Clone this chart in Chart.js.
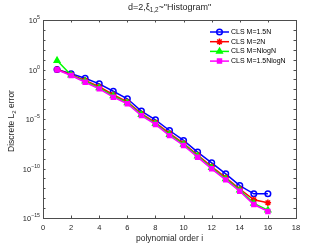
<!DOCTYPE html>
<html>
<head>
<meta charset="utf-8">
<script src="https://cdn.jsdelivr.net/npm/chart.js@4.4.1/dist/chart.umd.min.js"></script>
<style>
  body { margin: 0; background: #fff; }
  canvas { display: block; }
</style>
</head>
<body>
<canvas id="errChart" width="327" height="245"></canvas>
<script>
// dados (ordem polinomial i = 1..16)
const orders = [1, 2, 3, 4, 5, 6, 7, 8, 9, 10, 11, 12, 13, 14, 15, 16];
const clsM15N = [1.0, 0.37, 0.13, 0.035, 6.3e-3, 1.1e-3, 6.3e-5, 8.3e-6, 6.9e-7, 6.8e-8, 4.5e-9, 3.7e-10, 2.9e-11, 1.9e-12, 2.8e-13, 2.8e-13];
const clsM2N = [1.0, 0.30, 0.08, 0.018, 2.8e-3, 5.5e-4, 3.5e-5, 4.4e-6, 3.5e-7, 3.5e-8, 2.3e-9, 1.6e-10, 1.2e-11, 8.5e-13, 6.9e-14, 3.5e-14];
const clsMNlogN = [8.0, 0.27, 0.065, 0.014, 2.1e-3, 4.3e-4, 2.8e-5, 3.4e-6, 2.7e-7, 2.7e-8, 1.8e-9, 1.2e-10, 9.0e-12, 6.5e-13, 3.0e-14, 6.3e-15];
const clsM15NlogN = [0.95, 0.25, 0.052, 0.011, 1.6e-3, 3.5e-4, 2.2e-5, 2.8e-6, 2.1e-7, 2.1e-8, 1.4e-9, 9.3e-11, 7.1e-12, 5.0e-13, 2.3e-14, 4.6e-15];
const seriesNames = ['CLS M=1.5N', 'CLS M=2N', 'CLS M=NlogN', 'CLS M=1.5NlogN'];
const xTicks = [0, 2, 4, 6, 8, 10, 12, 14, 16, 18];
const yExponents = [-15, -14, -13, -12, -11, -10, -9, -8, -7, -6, -5, -4, -3, -2, -1, 0, 1, 2, 3, 4, 5];
const yLabelExponents = [-15, -10, -5, 0, 5];

const FONT = '"Liberation Sans", Arial, sans-serif';

function toPoints(vals) {
    return vals.map((v, i) => ({ x: orders[i], y: v }));
}

const styles = [
    { color: '#0000ff', point: 'circle', radius: 2.8, fill: 'rgba(0,0,0,0)' },
    { color: '#ff0000', point: 'star', radius: 3.2, fill: '#ff0000' },
    { color: '#00ff00', point: 'triangle', radius: 3.2, fill: '#00ff00' },
    { color: '#ff00ff', point: 'rect', radius: 2.8, fill: '#ff00ff' }
];
const allSeries = [clsM15N, clsM2N, clsMNlogN, clsM15NlogN];

const datasets = allSeries.map((vals, k) => ({
    label: seriesNames[k],
    data: toPoints(vals),
    borderColor: styles[k].color,
    backgroundColor: styles[k].fill,
    pointBorderColor: styles[k].color,
    pointBackgroundColor: styles[k].fill,
    pointStyle: styles[k].point,
    pointRadius: styles[k].radius,
    pointBorderWidth: 1.5,
    borderWidth: 1.5,
    order: 4 - k
}));

// texto com subscrito / sobrescrito
function drawRich(ctx, parts, cx, cy, size, align) {
    let total = 0;
    parts.forEach(p => {
        ctx.font = (p.sub || p.sup ? size * 0.7 : size) + 'px ' + FONT;
        total += ctx.measureText(p.t).width;
    });
    let x = align === 'right' ? cx - total : cx - total / 2;
    ctx.textAlign = 'left';
    ctx.textBaseline = 'middle';
    parts.forEach(p => {
        ctx.font = (p.sub || p.sup ? size * 0.7 : size) + 'px ' + FONT;
        let y = cy;
        if (p.sub) y = cy + size * 0.3;
        if (p.sup) y = cy - size * 0.4;
        ctx.fillText(p.t, x, y);
        x += ctx.measureText(p.t).width;
    });
}

const framePlugin = {
    id: 'frame',
    afterDraw(chart) {
        const ctx = chart.ctx;
        const a = chart.chartArea;
        const xs = chart.scales.x, ys = chart.scales.y;
        ctx.save();
        ctx.strokeStyle = '#4d4d4d';
        ctx.lineWidth = 1;
        ctx.strokeRect(a.left + 0.5, a.top + 0.5, a.right - a.left, a.bottom - a.top);
        ctx.beginPath();
        xTicks.forEach(v => {
            const px = Math.round(xs.getPixelForValue(v)) + 0.5;
            ctx.moveTo(px, a.bottom); ctx.lineTo(px, a.bottom - 2.5);
            ctx.moveTo(px, a.top); ctx.lineTo(px, a.top + 2.5);
        });
        yExponents.forEach(e => {
            const py = Math.round(ys.getPixelForValue(Math.pow(10, e))) + 0.5;
            ctx.moveTo(a.left, py); ctx.lineTo(a.left + 2.5, py);
            ctx.moveTo(a.right, py); ctx.lineTo(a.right - 2.5, py);
        });
        ctx.stroke();

        ctx.fillStyle = '#262626';
        // rótulos do eixo y (10 com expoente)
        yLabelExponents.forEach(e => {
            const py = ys.getPixelForValue(Math.pow(10, e));
            drawRich(ctx, [{ t: '10' }, { t: String(e).replace('-', '\u2212'), sup: true }], a.left - 3, py + 1, 7.5, 'right');
        });

        // títulos
        drawRich(ctx, [{ t: 'd=2,\u03BE' }, { t: '1,2', sub: true }, { t: '~"Histogram"' }], (a.left + a.right) / 2, 8, 9);
        drawRich(ctx, [{ t: 'polynomial order i' }], (a.left + a.right) / 2, 239, 8.5);
        ctx.save();
        ctx.translate(12, 121);
        ctx.rotate(-Math.PI / 2);
        drawRich(ctx, [{ t: 'Discrete L' }, { t: '2', sub: true }, { t: ' error' }], 0, 0, 8.5);
        ctx.restore();

        // legenda
        ctx.font = '7px ' + FONT;
        ctx.textAlign = 'left';
        ctx.textBaseline = 'middle';
        seriesNames.forEach((name, k) => {
            const y = 32 + k * 9.7;
            ctx.strokeStyle = styles[k].color;
            ctx.lineWidth = 1.5;
            ctx.beginPath();
            ctx.moveTo(210, y); ctx.lineTo(229, y);
            ctx.stroke();
            ctx.fillStyle = styles[k].fill;
            ctx.strokeStyle = styles[k].color;
            Chart.helpers.drawPoint(ctx, { pointStyle: styles[k].point, radius: styles[k].radius, borderWidth: 1.5, rotation: 0 }, 219.5, y);
            ctx.fillStyle = '#000';
            ctx.font = '7px ' + FONT;
            ctx.fillText(name, 231, y);
        });
        ctx.restore();
    }
};

const ctx = document.getElementById('errChart').getContext('2d');
const errChart = new Chart(ctx, {
    type: 'line',
    data: { datasets: datasets },
    options: {
        responsive: false,
        animation: false,
        layout: { padding: { top: 20, right: 31, left: 0, bottom: 0 } },
        plugins: { legend: { display: false }, title: { display: false }, tooltip: { enabled: false } },
        scales: {
            x: {
                type: 'linear',
                min: 0,
                max: 18,
                afterBuildTicks: s => { s.ticks = xTicks.map(v => ({ value: v })); },
                afterFit: s => { s.height = 27; },
                grid: { display: false, drawTicks: false },
                border: { display: false },
                ticks: { color: '#262626', font: { size: 7.5, family: FONT }, padding: 5, maxRotation: 0 }
            },
            y: {
                type: 'logarithmic',
                min: 1e-15,
                max: 1e5,
                afterBuildTicks: s => { s.ticks = yExponents.map(e => ({ value: Math.pow(10, e) })); },
                afterFit: s => { s.width = 43; },
                grid: { display: false, drawTicks: false },
                border: { display: false },
                ticks: { display: false }
            }
        }
    },
    plugins: [framePlugin]
});
</script>
</body>
</html>
